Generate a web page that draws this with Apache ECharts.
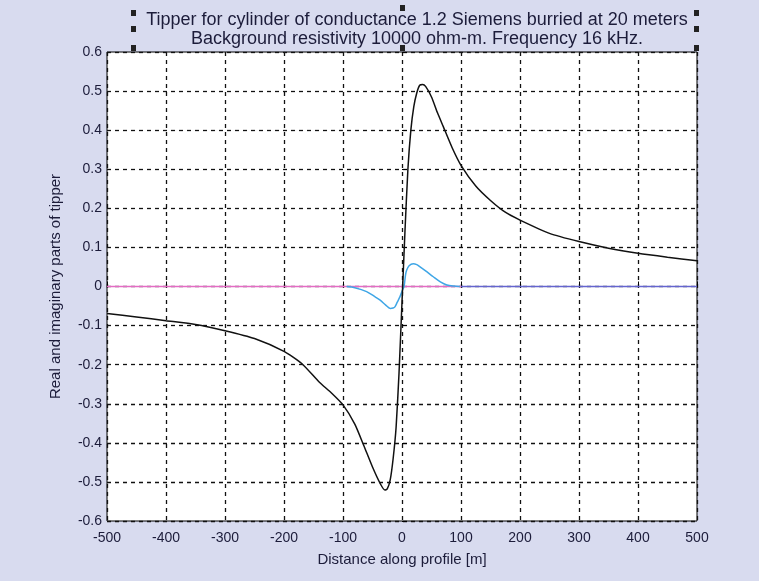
<!DOCTYPE html>
<html>
<head>
<meta charset="utf-8">
<script src="https://cdn.jsdelivr.net/npm/echarts@6/dist/echarts.min.js"></script>
<style>
  html, body { margin: 0; padding: 0; background: #d8dbef; }
  #main { width: 759px; height: 581px; }
</style>
</head>
<body>
<div id="main"></div>
<script>
// ============================= data ===============================

// distance along profile [m] for the real part
let realX = [-500, -450, -400, -350, -300, -250, -200, -170, -140, -120, -100, -80, -65, -50, -37, -29, -25, -20, -15, -10, -5, 0,
             5, 10, 15, 20, 25, 30, 35, 40, 50, 60, 70, 85, 100, 125, 150, 175, 200, 250, 300, 350, 400, 450, 500];
let realY = [-0.069, -0.078, -0.0875, -0.097, -0.113, -0.133, -0.166, -0.197, -0.245, -0.272, -0.303, -0.352, -0.406, -0.462, -0.504, -0.521, -0.518, -0.495, -0.44, -0.36, -0.22, -0.04,
             0.14, 0.30, 0.40, 0.46, 0.495, 0.515, 0.517, 0.512, 0.485, 0.445, 0.409, 0.355, 0.31, 0.257, 0.22, 0.19, 0.17, 0.136, 0.115, 0.098, 0.085, 0.075, 0.066];

// imaginary part (only non-zero near the cylinder)
let imagX = [-94, -80, -60, -45, -37, -28, -20, -15, -12, -8, -3.4, 0, 3.4, 6, 8, 12, 19, 25, 30, 40, 53, 65, 76, 88, 98];
let imagY = [0, -0.003, -0.013, -0.027, -0.035, -0.047, -0.056, -0.055, -0.052, -0.04, -0.026, -0.012, 0, 0.03, 0.042, 0.053, 0.058, 0.056, 0.051, 0.04, 0.025, 0.012, 0.004, 0.001, 0];

// zero lines
let zeroLeftX = [-500, 100];
let zeroRightX = [100, 500];

let xTicks = [-500, -400, -300, -200, -100, 0, 100, 200, 300, 400, 500];
let yTicks = [-0.6, -0.5, -0.4, -0.3, -0.2, -0.1, 0, 0.1, 0.2, 0.3, 0.4, 0.5, 0.6];

// ============================= helpers ===============================

function pairs(xs, ys) {
    return xs.map(function (x, i) { return [x, ys[i]]; });
}

let textColor = '#1c1c3a';
let font = 'Liberation Sans';

// title selection handles (MATLAB edit mode)
let handles = [[131, 10], [131, 26], [131, 45], [400, 5], [400, 45], [694, 10], [694, 26], [694, 45]];

// ============================= option ===============================

let option = {
    backgroundColor: '#d8dbef',
    animation: false,
    title: {
        text: 'Tipper for cylinder of conductance 1.2 Siemens burried at 20 meters\nBackground resistivity 10000 ohm-m. Frequency 16 kHz.',
        left: 412,
        top: 6,
        textAlign: 'center',
        textStyle: {
            color: textColor,
            fontFamily: font,
            fontWeight: 'normal',
            fontSize: 18,
            lineHeight: 19
        }
    },
    grid: {
        left: 107,
        right: 62,
        top: 52,
        bottom: 60,
        show: true,
        backgroundColor: '#ffffff',
        borderColor: '#000000',
        borderWidth: 1
    },
    xAxis: {
        type: 'value',
        min: -500,
        max: 500,
        interval: 100,
        name: 'Distance along profile [m]',
        nameLocation: 'middle',
        nameGap: 31,
        nameTextStyle: { color: textColor, fontFamily: font, fontSize: 15 },
        axisLine: { show: false },
        axisTick: { show: true, inside: true, length: 5, lineStyle: { color: '#000' } },
        axisLabel: {
            color: textColor, fontFamily: font, fontSize: 14, margin: 10,
            formatter: function (v) { return xTicks.indexOf(v) >= 0 ? String(v) : ''; }
        },
        splitLine: { show: true, lineStyle: { color: '#111', width: 1.3, type: [4, 4] } }
    },
    yAxis: {
        type: 'value',
        min: -0.6,
        max: 0.6,
        interval: 0.1,
        name: 'Real and imaginary parts of tipper',
        nameLocation: 'middle',
        nameGap: 44,
        nameTextStyle: { color: textColor, fontFamily: font, fontSize: 15 },
        axisLine: { show: false },
        axisTick: { show: true, inside: true, length: 5, lineStyle: { color: '#000' } },
        axisLabel: {
            color: textColor, fontFamily: font, fontSize: 14, margin: 5,
            formatter: function (v) {
                let r = Math.round(v * 10) / 10;
                return r === 0 ? '0' : r.toFixed(1);
            }
        },
        splitLine: { show: true, lineStyle: { color: '#111', width: 1.3, type: [4, 4] } }
    },
    series: [
        {
            name: 'zero',
            type: 'line',
            data: pairs(zeroLeftX, [0, 0]),
            symbol: 'none',
            lineStyle: { color: '#e46cc4', width: 1.5 },
            z: 2
        },
        {
            name: 'zero2',
            type: 'line',
            data: pairs(zeroRightX, [0, 0]),
            symbol: 'none',
            lineStyle: { color: '#6565cf', width: 1.5 },
            z: 2
        },
        {
            name: 'imag',
            type: 'line',
            data: pairs(imagX, imagY),
            symbol: 'none',
            smooth: 0.3,
            lineStyle: { color: '#3fa6e6', width: 1.5 },
            z: 3
        },
        {
            name: 'real',
            type: 'line',
            data: pairs(realX, realY),
            symbol: 'none',
            smooth: 0.2,
            lineStyle: { color: '#111111', width: 1.5 },
            z: 4
        }
    ],
    graphic: handles.map(function (h) {
        return {
            type: 'rect',
            shape: { x: h[0], y: h[1], width: 5, height: 6 },
            style: { fill: '#222' },
            silent: true
        };
    })
};

// ============================= render ===============================

echarts.init(document.getElementById('main')).setOption(option);
</script>
</body>
</html>
